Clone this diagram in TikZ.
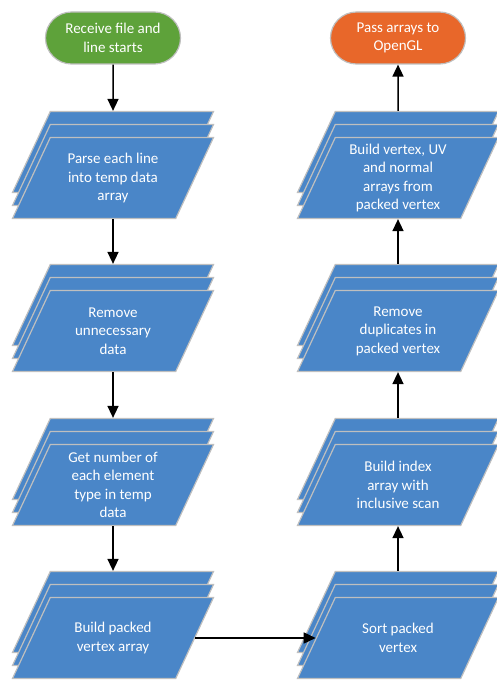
\documentclass[tikz,border=0pt]{standalone}
\usepackage{fontspec}
\setmainfont{Carlito}
\usepackage{tikz}
\usetikzlibrary{arrows.meta,shapes.geometric,shapes.misc,shadows}
\definecolor{stepblue}{HTML}{4A86C8}
\definecolor{startgreen}{HTML}{5EA23A}
\definecolor{endorange}{HTML}{E8672A}
\newcommand\proctext[1]{\parbox[c][81pt][c]{120pt}{\centering #1}}

\begin{document}
\begin{tikzpicture}[x=1pt,y=-1pt,>={Triangle[length=12pt,width=11pt]},
  every node/.style={font=\fontsize{15}{18.5}\selectfont,text=white,align=center},
  term/.style={rounded rectangle,draw=black!25,line width=1.2pt,minimum width=135pt,minimum height=52pt,inner sep=0pt},
  proc/.style={trapezium,trapezium left angle=65,trapezium right angle=115,trapezium stretches body,
    minimum width=201pt,inner sep=0pt,
    fill=stepblue,draw=black!25,line width=1.2pt,
    copy shadow={shadow xshift=0pt,shadow yshift=26pt},
    copy shadow={shadow xshift=0pt,shadow yshift=13pt}},
  flow/.style={->,line width=1.5pt}]
\useasboundingbox (0,0) rectangle (497,682);

% Terminals
\node[term,fill=startgreen] (start) at (113,38) {Receive file and\\line starts};
\node[term,fill=endorange] (finish) at (398,38) {Pass arrays to\\OpenGL};

% Left column
\node[proc] (parse) at (113,178) {\proctext{Parse each line\\into temp data\\array}};
\node[proc] (remove) at (113,331) {\proctext{Remove\\unnecessary\\data}};
\node[proc] (count) at (113,485) {\proctext{Get number of\\each element\\type in temp\\data}};
\node[proc] (pack) at (113,638) {\proctext{Build packed\\vertex array}};

% Right column
\node[proc] (sort) at (398,638) {\proctext{Sort packed\\vertex}};
\node[proc] (index) at (398,485) {\proctext{Build index\\array with\\inclusive scan}};
\node[proc] (dedup) at (398,331) {\proctext{Remove\\duplicates in\\packed vertex}};
\node[proc] (build) at (398,178) {\proctext{Build vertex, UV\\and normal\\arrays from\\packed vertex}};

% Connectors
\draw[flow] (start) -- ([yshift=26pt]parse.north);
\draw[flow] (parse.south) -- ([yshift=26pt]remove.north);
\draw[flow] (remove.south) -- ([yshift=26pt]count.north);
\draw[flow] (count.south) -- ([yshift=26pt]pack.north);
\draw[flow] (pack.east) -- (sort.west);
\draw[flow] ([yshift=26pt]sort.north) -- (index.south);
\draw[flow] ([yshift=26pt]index.north) -- (dedup.south);
\draw[flow] ([yshift=26pt]dedup.north) -- (build.south);
\draw[flow] ([yshift=26pt]build.north) -- (finish);
\end{tikzpicture}
\end{document}
